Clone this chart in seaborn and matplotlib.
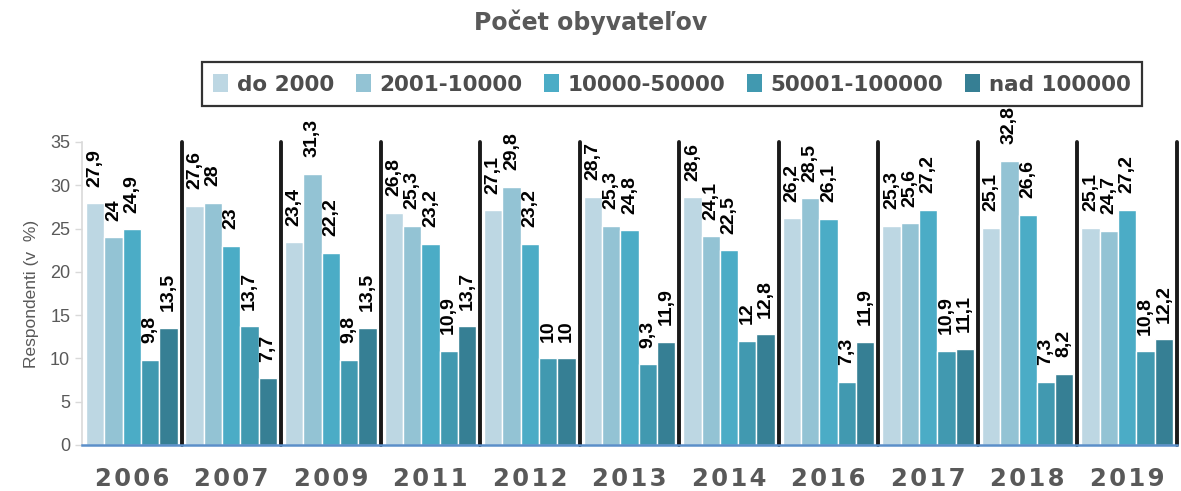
import numpy as np
import pandas as pd
import matplotlib
matplotlib.use("Agg")
import matplotlib.pyplot as plt
import seaborn as sns

# ── data ──────────────────────────────────────────────────────────────────────
YEARS  = ["2006", "2007", "2009", "2011", "2012", "2013", "2014", "2016", "2017", "2018", "2019"]
GROUPS = ["do 2000", "2001-10000", "10000-50000", "50001-100000", "nad 100000"]
do_2000      = [27.9, 27.6, 23.4, 26.8, 27.1, 28.7, 28.6, 26.2, 25.3, 25.1, 25.1]
g_2001_10000 = [24.0, 28.0, 31.3, 25.3, 29.8, 25.3, 24.1, 28.5, 25.6, 32.8, 24.7]
g_10000_50000 = [24.9, 23.0, 22.2, 23.2, 23.2, 24.8, 22.5, 26.1, 27.2, 26.6, 27.2]
g_50001_100000 = [9.8, 13.7, 9.8, 10.9, 10.0, 9.3, 12.0, 7.3, 10.9, 7.3, 10.8]
nad_100000   = [13.5, 7.7, 13.5, 13.7, 10.0, 11.9, 12.8, 11.9, 11.1, 8.2, 12.2]
COLORS = ["#bdd7e3", "#93c3d4", "#4bacc6", "#4199b0", "#367f94"]

series = [do_2000, g_2001_10000, g_10000_50000, g_50001_100000, nad_100000]
df = pd.concat([pd.DataFrame({"rok": YEARS, "skupina": g, "hodnota": vals})
                for g, vals in zip(GROUPS, series)], ignore_index=True)

GRAY = "#595959"

# ── plot ──────────────────────────────────────────────────────────────────────
sns.set_style("white")
plt.rcParams["font.family"] = ["Liberation Sans", "DejaVu Sans"]

fig = plt.figure(figsize=(11.81, 4.91), dpi=100)
ax = fig.add_axes([0.0694, 0.0937, 0.9272, 0.6171])

sns.barplot(data=df, x="rok", y="hodnota", hue="skupina", order=YEARS,
            hue_order=GROUPS, palette=COLORS, width=0.92, saturation=1,
            edgecolor="white", linewidth=1, legend=False, ax=ax)

for cont in ax.containers:
    labels = [f"{v:g}".replace(".", ",") for v in cont.datavalues]
    ax.bar_label(cont, labels=labels, rotation=90, padding=12,
                 fontsize=14, fontweight="bold", color="black")

# black group separators
for i in range(len(YEARS)):
    ax.axvline(i + 0.5, ymin=0, ymax=1, color="#1a1a1a", lw=2.8, clip_on=False, zorder=3)

ax.set_xlim(-0.5, len(YEARS) - 0.5)
ax.set_ylim(0, 35)
ax.set_yticks(range(0, 36, 5))
ax.tick_params(axis="y", labelsize=13, labelcolor=GRAY, color="#d9d9d9",
               length=5, width=1, left=True)
ax.tick_params(axis="x", length=0, pad=16)
ax.set_xticks(range(len(YEARS)))
ax.set_xticklabels(["\u200a".join(y) for y in YEARS], fontfamily="DejaVu Sans",
                   fontweight="heavy", fontsize=17.5, color=GRAY)

ax.set_xlabel("")
ax.set_ylabel("Respondenti (v  %)", fontsize=12.5, color=GRAY, labelpad=8)

sns.despine(ax=ax, top=True, right=True)
ax.spines["left"].set_color("#d9d9d9")
ax.spines["left"].set_linewidth(1.2)
ax.spines["bottom"].set_color("#5b8fc9")
ax.spines["bottom"].set_linewidth(1.8)
ax.spines["bottom"].set_zorder(4)

fig.text(0.5, 0.955, "Počet obyvateľov", ha="center", va="center",
         fontsize=17, fontweight="bold", color=GRAY, family="DejaVu Sans")

handles = [matplotlib.patches.Patch(facecolor=c, edgecolor="none") for c in COLORS]
leg = fig.legend(handles, GROUPS, loc="center", bbox_to_anchor=(0.569, 0.828),
                 ncol=5, frameon=True, fancybox=False, handlelength=0.7,
                 handleheight=0.9, handletextpad=0.4, columnspacing=1.0,
                 borderpad=0.55, prop={"family": "DejaVu Sans", "weight": "bold", "size": 15.5})
leg.get_frame().set_edgecolor("black")
leg.get_frame().set_linewidth(1.6)
for t in leg.get_texts():
    t.set_color("#4d4d4d")

plt.savefig("out.png", dpi=100)
